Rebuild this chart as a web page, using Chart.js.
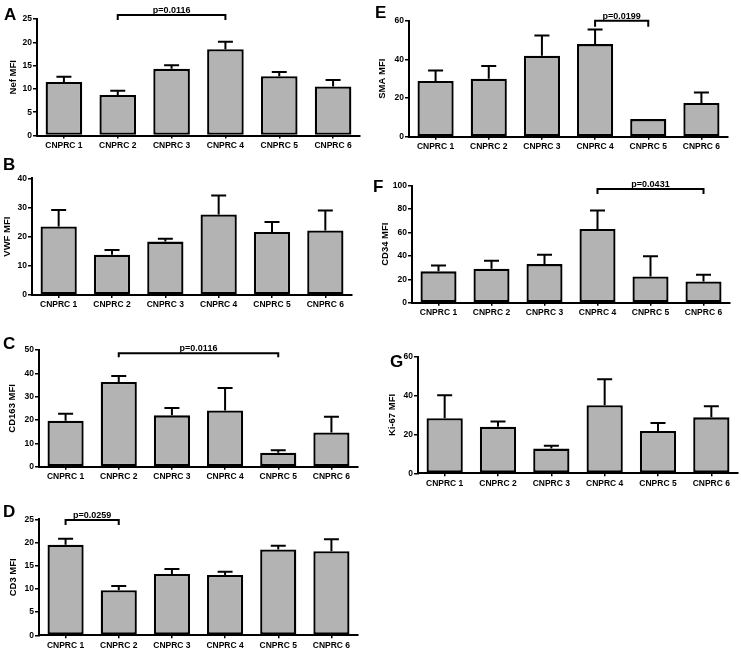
<!DOCTYPE html>
<html>
<head>
<meta charset="utf-8">
<script src="https://cdn.jsdelivr.net/npm/chart.js@4.4.0/dist/chart.umd.min.js"></script>
<style>
  body { margin: 0; background: #fff; }
  #page { position: relative; width: 741px; height: 653px; overflow: hidden; }
  #page canvas { position: absolute; }
  .letter { position: absolute; font: bold 17px "Liberation Sans", Arial, sans-serif; line-height: 17px; color: #000; }
</style>
</head>
<body>
<div id="page"></div>
<script>
// Sites on the x axis
const sites = ['CNPRC 1', 'CNPRC 2', 'CNPRC 3', 'CNPRC 4', 'CNPRC 5', 'CNPRC 6'];

// Mean MFI per site + SEM (only the upper whisker is drawn)
const nefMean = [11.5, 8.7, 14.3, 18.5, 12.7, 10.5];
const nefSem = [1.1, 0.9, 0.8, 1.6, 0.9, 1.4];
const vwfMean = [23.5, 13.8, 18.3, 27.6, 21.6, 22.1];
const vwfSem = [5.6, 1.6, 1.0, 6.5, 3.4, 6.9];
const cd163Mean = [19.7, 36.3, 22.0, 24.1, 6.0, 14.7];
const cd163Sem = [3.0, 2.6, 3.1, 9.6, 1.0, 6.7];
const cd3Mean = [19.5, 9.7, 13.2, 13.0, 18.5, 18.1];
const cd3Sem = [1.3, 0.9, 1.1, 0.7, 0.8, 2.6];
const smaMean = [28.8, 30.0, 41.9, 47.9, 9.1, 17.4];
const smaSem = [5.5, 6.6, 10.5, 7.6, 0, 5.4];
const cd34Mean = [26.8, 29.1, 33.0, 63.0, 22.5, 18.2];
const cd34Sem = [5.1, 6.8, 8.0, 15.9, 17.1, 5.7];
const ki67Mean = [28.3, 24.0, 12.7, 35.0, 21.8, 28.8];
const ki67Sem = [11.8, 2.7, 1.5, 13.4, 4.1, 5.7];

// y tick values
const nefTicks = [0, 5, 10, 15, 20, 25];
const vwfTicks = [0, 10, 20, 30, 40];
const cd163Ticks = [0, 10, 20, 30, 40, 50];
const cd3Ticks = [0, 5, 10, 15, 20, 25];
const smaTicks = [0, 20, 40, 60];
const cd34Ticks = [0, 20, 40, 60, 80, 100];
const ki67Ticks = [0, 20, 40, 60];

// significance brackets (site indices)
const nefCompare = [{ from: 1, to: 3, p: 'p=0.0116' }];
const cd163Compare = [{ from: 1, to: 4, p: 'p=0.0116' }];
const cd3Compare = [{ from: 0, to: 1, p: 'p=0.0259' }];
const smaCompare = [{ from: 3, to: 4, p: 'p=0.0199' }];
const cd34Compare = [{ from: 3, to: 5, p: 'p=0.0431' }];

const FONT = '"Liberation Sans", Arial, sans-serif';
const TITLE_SIZE = 9.5;

// layout: box = canvas [left, top, w, h]; area = plot [left, right, top, bottom] in page px
const panels = [
  { letter: 'A', lpos: [4, 6], title: 'Nef MFI', mean: nefMean, sem: nefSem, ticks: nefTicks, cmp: nefCompare,
    box: [0, 0, 370, 160], area: [37, 360, 19, 135.5], titleX: 13.5, lift: 4, drop: 5 },
  { letter: 'B', lpos: [3, 156], title: 'VWF MFI', mean: vwfMean, sem: vwfSem, ticks: vwfTicks, cmp: [],
    box: [0, 160, 370, 160], area: [32, 352, 178.3, 295], titleX: 7.5 },
  { letter: 'C', lpos: [3, 335], title: 'CD163 MFI', mean: cd163Mean, sem: cd163Sem, ticks: cd163Ticks, cmp: cd163Compare,
    box: [0, 320, 370, 170], area: [39, 358, 350, 466.7], titleX: 12.5, lift: -3.3, drop: 4 },
  { letter: 'D', lpos: [3, 503], title: 'CD3 MFI', mean: cd3Mean, sem: cd3Sem, ticks: cd3Ticks, cmp: cd3Compare,
    box: [0, 490, 370, 163], area: [39, 358, 519.3, 635.3], titleX: 13, lift: -0.7, drop: 5 },
  { letter: 'E', lpos: [375, 4], title: 'SMA MFI', mean: smaMean, sem: smaSem, ticks: smaTicks, cmp: smaCompare,
    box: [370, 0, 371, 160], area: [409, 728, 20.7, 136.7], titleX: 382, lift: 0, drop: 6 },
  { letter: 'F', lpos: [373, 178], title: 'CD34 MFI', mean: cd34Mean, sem: cd34Sem, ticks: cd34Ticks, cmp: cd34Compare,
    box: [370, 160, 371, 160], area: [412, 730, 185.7, 302.7], titleX: 385, lift: -3.3, drop: 5 },
  { letter: 'G', lpos: [390, 353], title: 'Ki-67 MFI', mean: ki67Mean, sem: ki67Sem, ticks: ki67Ticks, cmp: [],
    box: [370, 320, 371, 170], area: [418, 738, 356.7, 473.3], titleX: 392 }
];

// upper SEM whiskers + significance brackets
const annotatePlugin = {
  id: 'annotate',
  afterDatasetsDraw(chart, args, opts) {
    const { ctx, scales: { x, y } } = chart;
    const meta = chart.getDatasetMeta(0);
    const data = chart.data.datasets[0].data;
    ctx.save();
    ctx.strokeStyle = '#000';
    ctx.lineWidth = 2;
    meta.data.forEach((bar, i) => {
      const e = opts.sem[i];
      if (!e) return;
      const yBase = y.getPixelForValue(data[i]);
      const yTop = y.getPixelForValue(data[i] + e);
      ctx.beginPath();
      ctx.moveTo(bar.x, yBase);
      ctx.lineTo(bar.x, yTop);
      ctx.moveTo(bar.x - 7.5, yTop);
      ctx.lineTo(bar.x + 7.5, yTop);
      ctx.stroke();
    });

    ctx.lineWidth = 2;
    ctx.fillStyle = '#000';
    ctx.font = 'bold 9px ' + FONT;
    ctx.textAlign = 'center';
    ctx.textBaseline = 'alphabetic';
    (opts.cmp || []).forEach(c => {
      const x1 = x.getPixelForValue(c.from);
      const x2 = x.getPixelForValue(c.to);
      const yl = y.getPixelForValue(y.max) - opts.lift;
      ctx.beginPath();
      ctx.moveTo(x1, yl + opts.drop);
      ctx.lineTo(x1, yl);
      ctx.lineTo(x2, yl);
      ctx.lineTo(x2, yl + opts.drop);
      ctx.stroke();
      ctx.fillText(c.p, (x1 + x2) / 2, yl - 2);
    });
    ctx.restore();
  }
};

const page = document.getElementById('page');

function makePanel(p) {
  const [bl, bt, bw, bh] = p.box;
  const [al, ar, at, ab] = p.area;
  const canvas = document.createElement('canvas');
  canvas.width = bw;
  canvas.height = bh;
  canvas.style.left = bl + 'px';
  canvas.style.top = bt + 'px';
  canvas.style.width = bw + 'px';
  canvas.style.height = bh + 'px';
  page.appendChild(canvas);

  const lbl = document.createElement('div');
  lbl.className = 'letter';
  lbl.textContent = p.letter;
  lbl.style.left = p.lpos[0] + 'px';
  lbl.style.top = p.lpos[1] + 'px';
  page.appendChild(lbl);

  const padLeft = p.titleX - bl - TITLE_SIZE * 0.6;
  const yWidth = al - bl - padLeft;
  const xHeight = bh - (ab - bt);

  new Chart(canvas, {
    type: 'bar',
    data: {
      labels: sites,
      datasets: [{
        data: p.mean,
        backgroundColor: '#b3b3b3',
        borderColor: '#000',
        borderWidth: 2.3,
        borderSkipped: false,
        barPercentage: 0.68,
        categoryPercentage: 1
      }]
    },
    options: {
      responsive: false,
      animation: false,
      devicePixelRatio: 1,
      layout: { padding: { left: padLeft, top: at - bt, right: bl + bw - ar, bottom: 0 } },
      plugins: {
        legend: { display: false },
        tooltip: { enabled: false },
        annotate: { sem: p.sem, cmp: p.cmp, lift: p.lift || 0, drop: p.drop || 5 }
      },
      scales: {
        x: {
          grid: { display: true, drawOnChartArea: false, drawTicks: true, tickLength: 3, offset: false, color: '#000', lineWidth: 1.5 },
          border: { display: true, color: '#000', width: 2 },
          ticks: { color: '#000', font: { family: FONT, size: 8.5, weight: 'bold' }, padding: 2, maxRotation: 0, autoSkip: false },
          afterFit: s => { s.height = xHeight; s.paddingLeft = 0; s.paddingRight = 0; }
        },
        y: {
          min: p.ticks[0],
          max: p.ticks[p.ticks.length - 1],
          afterBuildTicks: s => { s.ticks = p.ticks.map(v => ({ value: v })); },
          grid: { display: true, drawOnChartArea: false, drawTicks: true, tickLength: 4, color: '#000', lineWidth: 1.5 },
          border: { display: true, color: '#000', width: 2 },
          ticks: { color: '#000', font: { family: FONT, size: 8.5, weight: 'bold' }, padding: 1 },
          title: { display: true, text: p.title, color: '#000', font: { family: FONT, size: TITLE_SIZE, weight: 'bold' }, padding: 0 },
          afterFit: s => { s.width = yWidth; s.paddingTop = 0; s.paddingBottom = 0; }
        }
      }
    },
    plugins: [annotatePlugin]
  });
}

panels.forEach(makePanel);
</script>
</body>
</html>
